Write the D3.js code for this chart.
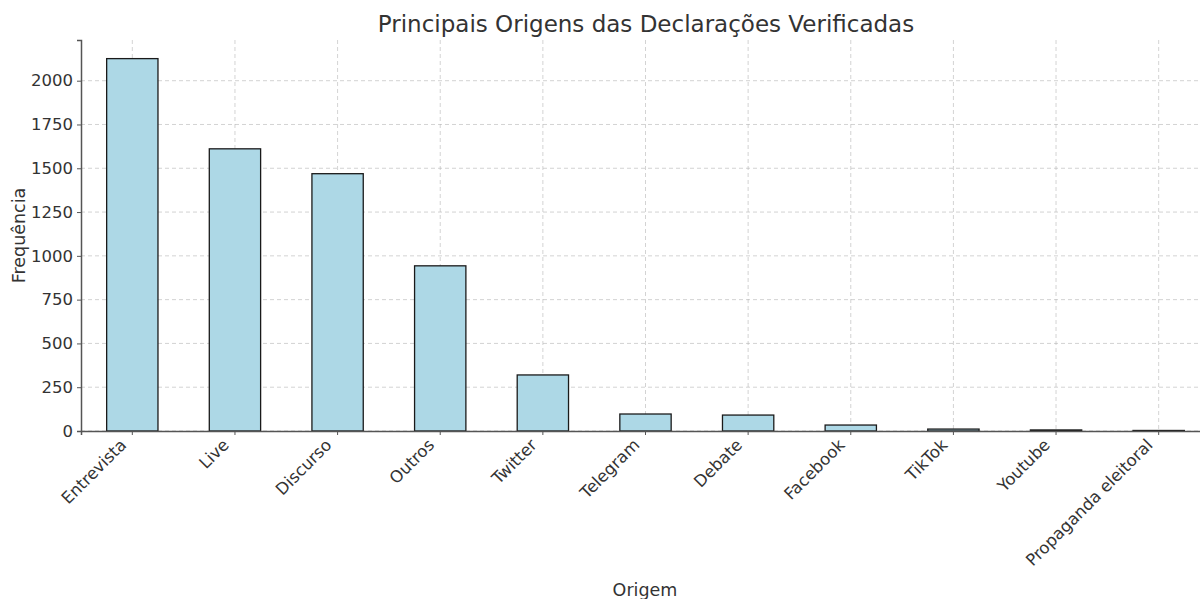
<!DOCTYPE html>
<html>
<head>
<meta charset="utf-8">
<script src="https://cdn.jsdelivr.net/npm/d3@7"></script>
<style>
  body { margin: 0; background: #fff; }
  text { font-family: "DejaVu Sans", sans-serif; fill: #333; }
</style>
</head>
<body>
<div id="grafico"></div>
<script>
// dados
const origens = ["Entrevista", "Live", "Discurso", "Outros", "Twitter", "Telegram",
  "Debate", "Facebook", "TikTok", "Youtube", "Propaganda eleitoral"];
const frequencias = [2126, 1611, 1469, 943, 320, 97, 91, 34, 11, 6, 3];
const ticksY = [0, 250, 500, 750, 1000, 1250, 1500, 1750, 2000];

// medidas
const W = 1200, H = 599;
const margem = { superior: 40, inferior: 168, esquerda: 81, direita: -10 };
const altura = H - margem.superior - margem.inferior;
const largura = W - margem.esquerda - margem.direita;

const svg = d3.select("#grafico").append("svg")
  .attr("width", W).attr("height", H);

const g = svg.append("g")
  .attr("transform", `translate(${margem.esquerda},${margem.superior})`);

// escalas
const x = d3.scaleBand().domain(origens).range([0, largura]).paddingInner(0.5).paddingOuter(0.25);
const y = d3.scaleLinear().domain([0, d3.max(frequencias) * 1.05]).range([altura, 0]);

// grade
g.append("g").selectAll("line").data(ticksY).join("line")
  .attr("x1", 0).attr("x2", largura)
  .attr("y1", d => y(d)).attr("y2", d => y(d))
  .attr("stroke", "#b0b0b0").attr("stroke-opacity", 0.7)
  .attr("stroke-dasharray", "4,3").attr("stroke-width", 0.8);
g.append("g").selectAll("line").data(origens).join("line")
  .attr("x1", d => x(d) + x.bandwidth() / 2).attr("x2", d => x(d) + x.bandwidth() / 2)
  .attr("y1", 0).attr("y2", altura)
  .attr("stroke", "#b0b0b0").attr("stroke-opacity", 0.7)
  .attr("stroke-dasharray", "4,3").attr("stroke-width", 0.8);

// barras
g.append("g").selectAll("rect").data(origens).join("rect")
  .attr("x", d => x(d))
  .attr("y", (d, i) => y(frequencias[i]))
  .attr("width", x.bandwidth())
  .attr("height", (d, i) => altura - y(frequencias[i]))
  .attr("fill", "lightblue")
  .attr("stroke", "#1a1a1a").attr("stroke-width", 1.3);

// eixo X
const eixoX = g.append("g")
  .attr("transform", `translate(0,${altura})`)
  .call(d3.axisBottom(x).tickSize(4).tickPadding(4));
eixoX.select(".domain").attr("stroke", "#555").attr("stroke-width", 1.5);
eixoX.selectAll(".tick line").attr("stroke", "#555");
eixoX.selectAll("text")
  .attr("font-size", "16.5px")
  .style("fill", "#333")
  .attr("text-anchor", "end")
  .attr("x", 0).attr("y", 0).attr("dy", 0)
  .attr("transform", "translate(-5,15) rotate(-45)");

// eixo Y
const eixoY = g.append("g")
  .call(d3.axisLeft(y).tickValues(ticksY).tickFormat(d3.format("d")).tickSize(4).tickPadding(4));
eixoY.select(".domain").attr("stroke", "#555").attr("stroke-width", 1.5);
eixoY.selectAll(".tick line").attr("stroke", "#555");
eixoY.selectAll("text").attr("font-size", "16.5px").style("fill", "#333");

// títulos
svg.append("text")
  .attr("x", 646).attr("y", 32)
  .attr("text-anchor", "middle").attr("font-size", "23px")
  .text("Principais Origens das Declarações Verificadas");
svg.append("text")
  .attr("x", 645).attr("y", 596)
  .attr("text-anchor", "middle").attr("font-size", "17.5px")
  .text("Origem");
svg.append("text")
  .attr("transform", `translate(25,${margem.superior + altura / 2}) rotate(-90)`)
  .attr("text-anchor", "middle").attr("font-size", "17.5px")
  .text("Frequência");
</script>
</body>
</html>
